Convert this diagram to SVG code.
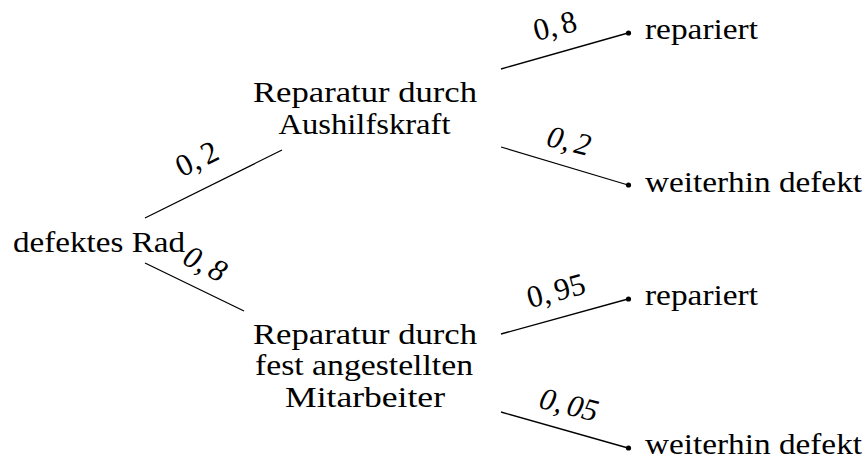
<svg xmlns="http://www.w3.org/2000/svg" width="864" height="461" viewBox="0 0 864 461">
<style>
text{font-family:"Liberation Serif","Times New Roman",serif;font-size:30px;fill:#000}
.n{text-anchor:middle}
.lb{text-anchor:middle;font-size:31px}
.it{font-style:italic}
.c line{stroke:#000;stroke-width:1.3;fill:none}
circle{fill:#000}
</style>
<rect width="864" height="461" fill="#fff"/>
<g id="connectors" class="c">
<line x1="145" y1="218" x2="282" y2="150"/>
<line x1="145" y1="263" x2="244" y2="311"/>
<line x1="501" y1="69" x2="628" y2="33"/>
<line x1="501" y1="147" x2="628" y2="185"/>
<line x1="501" y1="334" x2="628" y2="299"/>
<line x1="501" y1="412" x2="628" y2="448"/>
</g>
<g id="edge-labels">
<text class="lb" transform="translate(197,159) rotate(-26)" y="10">0,<tspan dx="5">2</tspan></text>
<text class="lb it" transform="translate(205,264) rotate(27)" y="10">0,<tspan dx="5">8</tspan></text>
<text class="lb" transform="translate(555,26) rotate(-14)" y="10">0,<tspan dx="5">8</tspan></text>
<text class="lb it" transform="translate(569,141) rotate(14)" y="10">0,<tspan dx="5">2</tspan></text>
<text class="lb" transform="translate(556,291) rotate(-15)" y="10">0,<tspan dx="5">95</tspan></text>
<text class="lb it" transform="translate(569,405) rotate(14)" y="10">0,<tspan dx="5">05</tspan></text>
</g>
<g id="root">
<text x="13" y="251.5" textLength="172" lengthAdjust="spacingAndGlyphs">defektes Rad</text>
</g>
<g id="aushilfskraft">
<text class="n" x="365" y="101.5" textLength="224" lengthAdjust="spacingAndGlyphs">Reparatur durch</text>
<text class="n" x="364.5" y="133.5" textLength="172" lengthAdjust="spacingAndGlyphs">Aushilfskraft</text>
</g>
<g id="mitarbeiter">
<text class="n" x="365" y="343.5" textLength="224" lengthAdjust="spacingAndGlyphs">Reparatur durch</text>
<text class="n" x="364" y="375" textLength="218" lengthAdjust="spacingAndGlyphs">fest angestellten</text>
<text class="n" x="365" y="406.5" textLength="160" lengthAdjust="spacingAndGlyphs">Mitarbeiter</text>
</g>
<g id="leaf1">
<circle cx="628.5" cy="33" r="2.6"/>
<text x="645" y="39" textLength="113" lengthAdjust="spacingAndGlyphs">repariert</text>
</g>
<g id="leaf2">
<circle cx="628.5" cy="185" r="2.6"/>
<text x="645" y="192" textLength="217" lengthAdjust="spacingAndGlyphs">weiterhin defekt</text>
</g>
<g id="leaf3">
<circle cx="628.5" cy="299" r="2.6"/>
<text x="645" y="305" textLength="113" lengthAdjust="spacingAndGlyphs">repariert</text>
</g>
<g id="leaf4">
<circle cx="628.5" cy="448" r="2.6"/>
<text x="645" y="454" textLength="217" lengthAdjust="spacingAndGlyphs">weiterhin defekt</text>
</g>
</svg>
